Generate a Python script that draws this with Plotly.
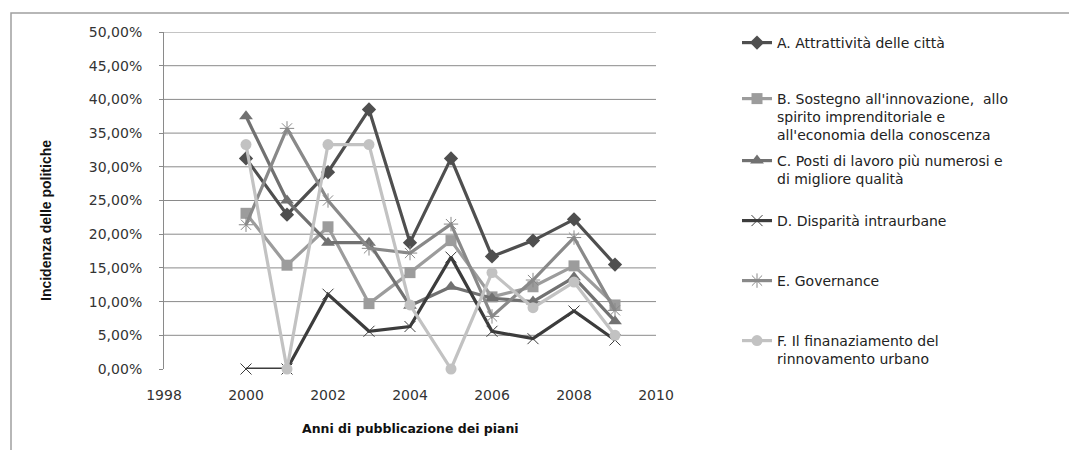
import plotly.graph_objects as go

# Anni e incidenza (%) delle politiche per asse tematico
anni = [2000, 2001, 2002, 2003, 2004, 2005, 2006, 2007, 2008, 2009]
serie_a = [31.25, 22.9, 29.2, 38.5, 18.75, 31.25, 16.7, 19.05, 22.2, 15.5]
serie_b = [23.1, 15.4, 21.1, 9.7, 14.3, 19.05, 10.7, 12.2, 15.3, 9.5]
serie_c = [37.5, 25.0, 18.75, 18.75, 9.4, 12.2, 10.5, 10.0, 13.6, 7.1]
serie_d = [0.0, 0.0, 11.1, 5.6, 6.3, 16.6, 5.6, 4.5, 8.6, 4.3]
serie_e = [21.4, 35.7, 25.0, 17.9, 17.2, 21.5, 7.8, 13.2, 19.5, 8.7]
serie_f = [33.3, 0.0, 33.3, 33.3, 9.5, 0.0, 14.3, 9.1, 12.9, 5.0]

nomi = [
    "A. Attrattività delle città",
    "B. Sostegno all'innovazione,  allo<br>spirito imprenditoriale e<br>all'economia della conoscenza",
    "C. Posti di lavoro più numerosi e<br>di migliore qualità",
    "D. Disparità intraurbane",
    "E. Governance",
    "F. Il finanaziamento del<br>rinnovamento urbano",
]

y_ticks = [0, 5, 10, 15, 20, 25, 30, 35, 40, 45, 50]
y_labels = ["0,00%", "5,00%", "10,00%", "15,00%", "20,00%", "25,00%",
            "30,00%", "35,00%", "40,00%", "45,00%", "50,00%"]
x_ticks = [1998, 2000, 2002, 2004, 2006, 2008, 2010]

# plot area in pixels (figure 1069x450)
W, H = 1069, 450
L, R, T, B = 164, 656, 32, 369
pw, ph = R - L, B - T


def px(xp):
    return (xp - L) / pw


def py(yp):
    return (B - yp) / ph


stili = [
    dict(color="#4f4f4f", symbol="diamond", size=11, open=False),
    dict(color="#9c9c9c", symbol="square", size=11, open=False),
    dict(color="#717171", symbol="triangle-up", size=12, open=False),
    dict(color="#3c3c3c", symbol="x-thin-open", size=11, open=True),
    dict(color="#898989", symbol="asterisk-open", size=12, open=True),
    dict(color="#c2c2c2", symbol="circle", size=11, open=False),
]
valori = [serie_a, serie_b, serie_c, serie_d, serie_e, serie_f]
legend_y = [42, 98, 160, 220, 280, 340]

fig = go.Figure()
for i, (nome, vals, st) in enumerate(zip(nomi, valori, stili)):
    lg = "legend" if i == 0 else f"legend{i + 1}"
    marker = dict(symbol=st["symbol"], size=st["size"], color=st["color"])
    if st["open"]:
        marker["line"] = dict(color=st["color"], width=1)
    fig.add_trace(go.Scatter(
        x=anni, y=vals, name=nome, mode="lines+markers",
        line=dict(color=st["color"], width=3.2),
        marker=marker, legend=lg, cliponaxis=False,
    ))

leg_font = dict(family="DejaVu Sans", size=14, color="#222222")
legends = {}
for i, yy in enumerate(legend_y):
    key = "legend" if i == 0 else f"legend{i + 1}"
    legends[key] = dict(
        x=px(737), y=py(yy - 15), xanchor="left", yanchor="top",
        font=leg_font, bgcolor="rgba(0,0,0,0)", borderwidth=0,
        valign="top", itemwidth=30, tracegroupgap=0,
    )

shapes = []
# horizontal gridlines (no line at 0)
for v in y_ticks[1:]:
    shapes.append(dict(type="line", xref="paper", yref="y", x0=0, x1=1,
                       y0=v, y1=v, line=dict(color="#8a8a8a", width=1),
                       layer="below"))
# chart frame
shapes.append(dict(type="rect", xref="paper", yref="paper",
                   x0=px(11), x1=px(1075), y0=py(13), y1=py(460),
                   line=dict(color="#a0a0a0", width=1.5), layer="below"))

fig.update_layout(
    width=W, height=H,
    margin=dict(l=L, r=W - R, t=T, b=H - B),
    paper_bgcolor="white", plot_bgcolor="white",
    showlegend=True,
    shapes=shapes,
    xaxis=dict(
        range=[1998, 2010], tickvals=x_ticks, ticktext=[str(v) for v in x_ticks],
        showgrid=False, zeroline=False, showline=False, ticks="",
        ticklabelstandoff=16,
        tickfont=dict(family="DejaVu Sans", size=14, color="#333333"),
    ),
    yaxis=dict(
        range=[0, 50], tickvals=y_ticks, ticktext=y_labels,
        showgrid=False, zeroline=False, showline=True, linecolor="#8a8a8a",
        linewidth=1, ticks="outside", ticklen=4, tickcolor="#8a8a8a",
        ticklabelstandoff=14,
        tickfont=dict(family="DejaVu Sans", size=14, color="#333333"),
    ),
    annotations=[
        dict(text="<b>Anni di pubblicazione dei piani</b>", xref="paper", yref="paper",
             x=px(410), y=py(428), xanchor="center", yanchor="middle",
             showarrow=False, font=dict(family="DejaVu Sans", size=12.5, color="#111111")),
        dict(text="<b>Incidenza delle politiche</b>", xref="paper", yref="paper",
             x=px(46), y=py(221), xanchor="center", yanchor="middle", textangle=-90,
             showarrow=False,
             font=dict(family="Liberation Sans Narrow, Arial Narrow, Liberation Sans",
                       size=14, color="#111111")),
    ],
    **legends,
)

fig.write_html("out.html")
